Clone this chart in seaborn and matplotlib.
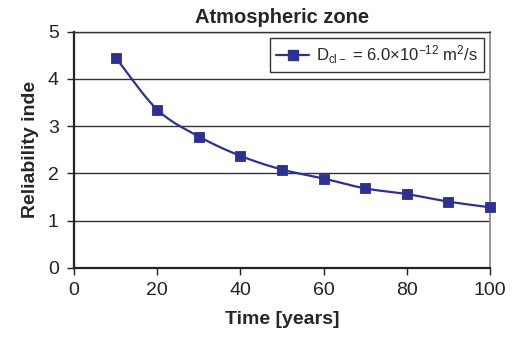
import numpy as np
import pandas as pd
import matplotlib
matplotlib.use("Agg")
import matplotlib.pyplot as plt
import seaborn as sns

# Datos
time_years = [10, 20, 30, 40, 50, 60, 70, 80, 90, 100]
reliability = [4.45, 3.35, 2.78, 2.37, 2.08, 1.89, 1.68, 1.56, 1.40, 1.28]
series_label = "D$_{\\mathregular{cl\u2212}}$ = 6.0\u00d710$^{\\mathregular{\u221212}}$ m$^{\\mathregular{2}}$/s"
x_ticks = [0, 20, 40, 60, 80, 100]
y_ticks = [0, 1, 2, 3, 4, 5]

color = "#2E3192"


def smooth_curve(x, y, n=20):
    """Curva suavizada tipo Catmull-Rom (como la línea suavizada de Excel)."""
    x = np.asarray(x, float)
    y = np.asarray(y, float)
    px = np.concatenate([[2 * x[0] - x[1]], x, [2 * x[-1] - x[-2]]])
    py = np.concatenate([[2 * y[0] - y[1]], y, [2 * y[-1] - y[-2]]])
    xs, ys = [], []
    t = np.linspace(0, 1, n, endpoint=False)
    for i in range(1, len(px) - 2):
        for p, out in ((px, xs), (py, ys)):
            p0, p1, p2, p3 = p[i - 1], p[i], p[i + 1], p[i + 2]
            out.extend(0.5 * (2 * p1 + (-p0 + p2) * t
                              + (2 * p0 - 5 * p1 + 4 * p2 - p3) * t ** 2
                              + (-p0 + 3 * p1 - 3 * p2 + p3) * t ** 3))
    xs.append(x[-1])
    ys.append(y[-1])
    return pd.DataFrame({"time": xs, "rel": ys})


sns.set_style("white")
plt.rcParams["font.family"] = ["Liberation Sans", "DejaVu Sans"]
plt.rcParams["mathtext.fontset"] = "custom"
plt.rcParams["mathtext.rm"] = "Liberation Sans"
plt.rcParams["mathtext.it"] = "Liberation Sans"

fig = plt.figure(figsize=(5.18, 3.38), dpi=100)
ax = fig.add_axes([0.143, 0.208, 0.803, 0.698])

data = pd.DataFrame({"time": time_years, "rel": reliability})
curve = smooth_curve(time_years, reliability)

sns.lineplot(data=curve, x="time", y="rel", ax=ax, color=color, lw=1.6,
             sort=False, zorder=3)
sns.scatterplot(data=data, x="time", y="rel", ax=ax, color=color, marker="s",
                s=60, edgecolor=color, zorder=4, clip_on=False)

# Leyenda con línea + marcador
handle = plt.Line2D([], [], color=color, lw=1.6, marker="s", markersize=7.5)
leg = ax.legend([handle], [series_label], loc="upper right", fontsize=12,
                frameon=True, fancybox=False, edgecolor="black",
                borderaxespad=0.0, handlelength=2.0, handletextpad=0.4,
                borderpad=0.35, bbox_to_anchor=(0.985, 0.975))
leg.get_frame().set_linewidth(1.0)

ax.set_xlim(0, 100)
ax.set_ylim(0, 5)
ax.set_xticks(x_ticks)
ax.set_yticks(y_ticks)
ax.yaxis.grid(True, color="#333333", lw=1.0)
ax.set_axisbelow(True)

for side in ["left", "bottom"]:
    ax.spines[side].set_color("#222222")
    ax.spines[side].set_linewidth(1.6)
ax.spines["top"].set_color("#333333")
ax.spines["top"].set_linewidth(1.0)
ax.spines["right"].set_color("#888888")
ax.spines["right"].set_linewidth(1.2)

ax.tick_params(axis="both", direction="out", length=5, width=1.0,
               colors="#222222", labelsize=14, bottom=True, left=True)
ax.tick_params(axis="x", pad=5)
ax.tick_params(axis="y", pad=6)

ax.set_title("Atmospheric zone", fontsize=14.5, fontweight="bold", pad=6)
ax.set_xlabel("Time [years]", fontsize=14, fontweight="bold", labelpad=9)
ax.set_ylabel("Reliability inde", fontsize=14, fontweight="bold", labelpad=6)

fig.savefig("out.png", dpi=100)
